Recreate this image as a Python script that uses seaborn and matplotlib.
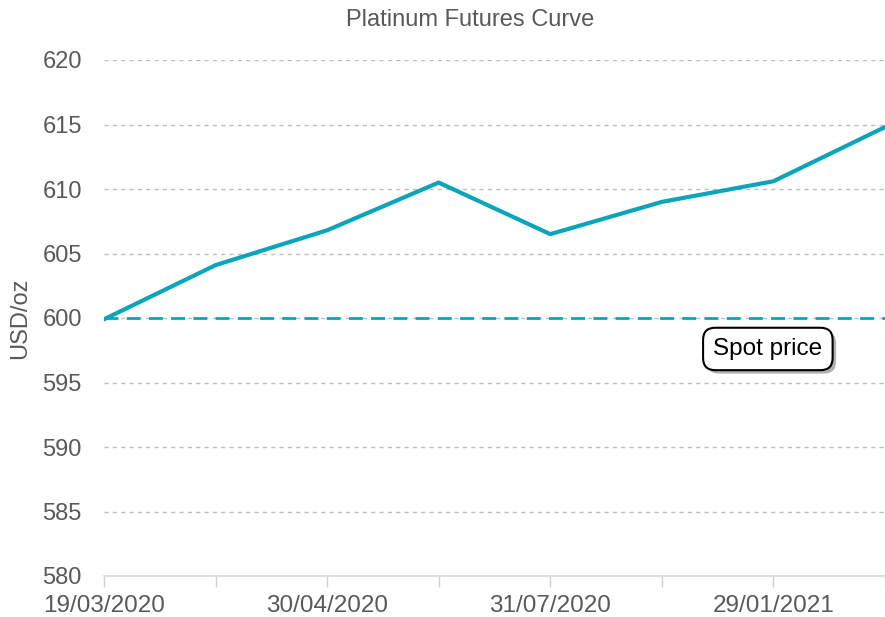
import matplotlib
matplotlib.use("Agg")
import matplotlib.pyplot as plt
import matplotlib.patheffects as pe
import seaborn as sns
import pandas as pd

# Data
dates = ["19/03/2020", "31/03/2020", "30/04/2020", "30/06/2020",
         "31/07/2020", "30/10/2020", "29/01/2021", "28/04/2021"]
prices = [599.9, 604.1, 606.8, 610.5, 606.5, 609.0, 610.6, 614.8]
spot_price = 600.0
y_ticks = [580, 585, 590, 595, 600, 605, 610, 615, 620]

sns.set_theme(style="white")
plt.rcParams["font.family"] = ["Liberation Sans", "DejaVu Sans"]

teal = "#0AA5BB"
grey_text = "#595959"

fig = plt.figure(figsize=(8.85, 6.17), dpi=100)
ax = fig.add_axes([104 / 885, 1 - 576 / 617, (885 - 104) / 885, (576 - 60) / 617])

df = pd.DataFrame({"pos": list(range(len(dates))), "price": prices})
sns.lineplot(data=df, x="pos", y="price", ax=ax, color=teal, linewidth=3, zorder=3)
ax.axhline(spot_price, color=teal, linewidth=2, linestyle=(0, (5, 3)), zorder=2)

ax.set_xlim(0, len(dates) - 1 - 0.03)
ax.set_ylim(y_ticks[0], y_ticks[-1])
ax.set_yticks(y_ticks)
ax.set_yticklabels([str(v) for v in y_ticks], fontsize=17, color=grey_text)
ax.set_xticks(range(len(dates)))
ax.set_xticklabels([d if i % 2 == 0 else "" for i, d in enumerate(dates)],
                   fontsize=17.5, color=grey_text)
ax.tick_params(axis="x", length=8, width=1, color="#D0D0D0", pad=6, direction="out")
ax.tick_params(axis="y", length=0, pad=16)
ax.xaxis.set_ticks_position("bottom")

ax.grid(axis="y", color="#BFBFBF", linestyle=(0, (3, 3)), linewidth=1)
ax.grid(axis="x", visible=False)
for s in ["top", "right", "left"]:
    ax.spines[s].set_visible(False)
ax.spines["bottom"].set_color("#D9D9D9")
ax.spines["bottom"].set_linewidth(1.2)

ax.set_xlabel("")
ax.set_ylabel("USD/oz", fontsize=17, color=grey_text, labelpad=8)
fig.text(470 / 885, 1 - 20 / 617, "Platinum Futures Curve", ha="center", va="center",
         fontsize=17, color=grey_text)

t = ax.text(5.95, 597.6, "Spot price", ha="center", va="center", fontsize=17.5, color="black",
            bbox=dict(boxstyle="round,pad=0.42,rounding_size=0.5", fc="white", ec="black", lw=1.5),
            zorder=5)
t.get_bbox_patch().set_path_effects([
    pe.withSimplePatchShadow(offset=(2.5, -2.5), shadow_rgbFace="grey", alpha=0.6)
])

fig.savefig("out.png", dpi=100)
